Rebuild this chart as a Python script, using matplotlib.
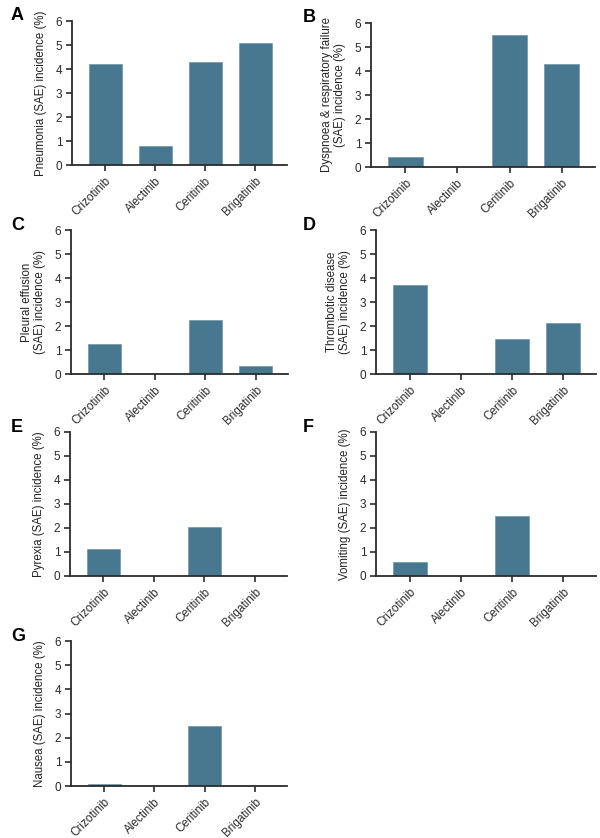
import matplotlib
matplotlib.use("Agg")
import matplotlib.pyplot as plt

plt.rcParams['font.family'] = ['Liberation Sans', 'DejaVu Sans']

drugs = ["Crizotinib", "Alectinib", "Ceritinib", "Brigatinib"]

pneumonia = [4.2, 0.8, 4.3, 5.1]
dyspnoea = [0.43, 0, 5.5, 4.3]
pleural = [1.25, 0, 2.25, 0.33]
thrombotic = [3.7, 0, 1.44, 2.12]
pyrexia = [1.13, 0, 2.03, 0]
vomiting = [0.6, 0, 2.5, 0]
nausea = [0.07, 0, 2.5, 0]

letters = ["A", "B", "C", "D", "E", "F", "G"]
ylabels = [
    "Pneumonia (SAE) incidence (%)",
    "Dyspnoea & respiratory failure\n(SAE) incidence (%)",
    "Pleural effusion\n(SAE) incidence (%)",
    "Thrombotic disease\n(SAE) incidence (%)",
    "Pyrexia (SAE) incidence (%)",
    "Vomiting (SAE) incidence (%)",
    "Nausea (SAE) incidence (%)",
]
series = [pneumonia, dyspnoea, pleural, thrombotic, pyrexia, vomiting, nausea]

W, H = 600, 838
# axes boxes in pixels: left, right, top(y=6), bottom(y=0)
boxes = [
    (72, 287, 21, 165),
    (371, 595, 23, 167),
    (71, 288, 230, 374),
    (376, 596, 230, 374),
    (70, 287, 432, 576),
    (376, 596, 432, 576),
    (71, 287, 641, 786),
]

bar_color = "#47788f"
axis_color = "#2b2b2b"

fig = plt.figure(figsize=(W / 100, H / 100), dpi=100)

for i in range(7):
    l, r, t, b = boxes[i]
    ax = fig.add_axes([l / W, 1 - b / H, (r - l) / W, (b - t) / H])
    x = range(len(drugs))
    ax.bar(x, series[i], width=0.66, color=bar_color, edgecolor="#6f97a8", linewidth=0.5)
    ax.set_ylim(0, 6)
    ax.set_xlim(-0.66, 3.64)
    ax.set_yticks(range(7))
    ax.set_xticks(list(x))
    ax.set_xticklabels(drugs, rotation=45, ha="right", rotation_mode="anchor")
    ax.tick_params(axis="both", labelsize=8.5, colors=axis_color, length=4, width=1.2, pad=3)
    for s in ["top", "right"]:
        ax.spines[s].set_visible(False)
    for s in ["left", "bottom"]:
        ax.spines[s].set_color(axis_color)
        ax.spines[s].set_linewidth(1.3)
    ax.set_ylabel(ylabels[i], fontsize=8.3, color="#222222", labelpad=6, linespacing=1.15)
    lx = 11 if l < 200 else 303
    fig.text(lx / W, 1 - (t - 5) / H, letters[i], fontsize=13, fontweight="bold", va="center", ha="left")

fig.savefig("out.png", dpi=100, facecolor="white")
